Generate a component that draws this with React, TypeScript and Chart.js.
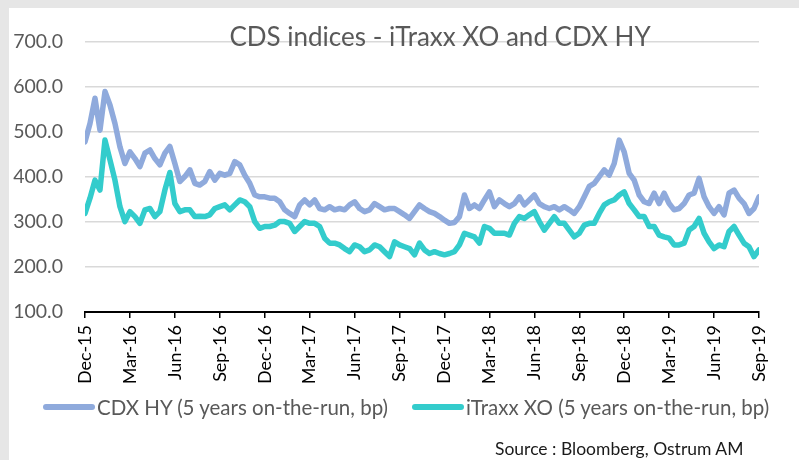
import React, { useEffect, useRef } from "react";
import { Chart, registerables } from "chart.js";

Chart.register(...registerables);

const quarterLabels = [
  "Dec-15", "Mar-16", "Jun-16", "Sep-16", "Dec-16", "Mar-17", "Jun-17", "Sep-17",
  "Dec-17", "Mar-18", "Jun-18", "Sep-18", "Dec-18", "Mar-19", "Jun-19", "Sep-19",
];

// samples every ~1/3 month from Dec-15 to Sep-19
const cdxHY = [
  478, 519, 575, 504, 590, 560, 519, 467, 430, 456, 441, 423, 453, 460, 441, 427,
  453, 468, 430, 390, 401, 416, 386, 382, 390, 412, 393, 408, 404, 408, 434, 427,
  404, 386, 360, 356, 356, 353, 353, 345, 327, 319, 312, 338, 349, 338, 349, 330,
  327, 334, 327, 330, 327, 338, 345, 330, 323, 327, 341, 334, 327, 330, 330, 323,
  316, 308, 323, 338, 330, 323, 319, 312, 304, 297, 299, 312, 360, 330, 338, 330,
  349, 367, 334, 349, 341, 334, 341, 356, 338, 349, 360, 341, 334, 330, 334, 327,
  334, 327, 319, 334, 356, 379, 386, 401, 416, 404, 430, 482, 456, 408, 393, 360,
  345, 341, 364, 341, 364, 341, 327, 330, 341, 360, 364, 397, 356, 334, 319, 334,
  316, 364, 371, 353, 341, 319, 330, 356,
];

const itraxxXO = [
  319, 353, 393, 371, 482, 438, 393, 334, 301, 323, 312, 297, 327, 330, 312, 323,
  371, 410, 341, 323, 327, 327, 312, 313, 312, 316, 330, 334, 338, 327, 338, 349,
  345, 334, 301, 286, 290, 290, 293, 301, 301, 297, 279, 290, 301, 297, 297, 290,
  264, 253, 253, 249, 241, 234, 249, 245, 234, 238, 249, 245, 234, 223, 256, 249,
  245, 241, 227, 253, 238, 230, 234, 230, 227, 230, 234, 249, 275, 271, 267, 253,
  290, 286, 275, 275, 275, 271, 297, 312, 308, 316, 323, 301, 282, 297, 312, 297,
  297, 282, 267, 275, 293, 297, 297, 319, 338, 345, 349, 360, 367, 341, 327, 312,
  312, 290, 290, 271, 267, 264, 249, 249, 253, 282, 290, 308, 275, 256, 241, 249,
  245, 279, 290, 271, 253, 245, 223, 238,
];

const seriesNames = ["CDX HY (5 years on-the-run, bp)", "iTraxx XO (5 years on-the-run, bp)"];
const colors = ["#8FAADC", "#33CCCC"];

const FONT = "Lato, 'Open Sans', sans-serif";

export default function App() {
  const ref = useRef<HTMLCanvasElement | null>(null);

  useEffect(() => {
    if (!ref.current) return;
    const toXY = (arr: number[]) => arr.map((v, i) => ({ x: i / 3, y: v }));
    const chart = new Chart(ref.current, {
      type: "line",
      data: {
        datasets: [
          {
            label: seriesNames[0],
            data: toXY(cdxHY),
            borderColor: colors[0],
            backgroundColor: colors[0],
            borderWidth: 5.5,
            pointRadius: 0,
            tension: 0,
            borderJoinStyle: "round",
            borderCapStyle: "round",
          },
          {
            label: seriesNames[1],
            data: toXY(itraxxXO),
            borderColor: colors[1],
            backgroundColor: colors[1],
            borderWidth: 5.5,
            pointRadius: 0,
            tension: 0,
            borderJoinStyle: "round",
            borderCapStyle: "round",
          },
        ],
      },
      options: {
        responsive: false,
        animation: false,
        layout: { padding: { top: 42, right: 40, left: 0, bottom: 0 } },
        plugins: { legend: { display: false }, title: { display: false }, tooltip: { enabled: false } },
        scales: {
          x: {
            type: "linear",
            min: 0,
            max: 45,
            afterFit: (s: any) => { s.height = 148; },
            grid: { drawOnChartArea: false, drawTicks: true, tickLength: 6, color: "#000", lineWidth: 1.5 },
            border: { color: "#000", width: 2 },
            ticks: {
              stepSize: 3,
              autoSkip: false,
              minRotation: 90,
              maxRotation: 90,
              padding: 7,
              color: "#000",
              font: { family: FONT, size: 18 },
              callback: (v: any) => quarterLabels[Math.round(Number(v) / 3)] ?? "",
            },
          },
          y: {
            min: 100,
            max: 700,
            afterFit: (s: any) => { s.width = 85; },
            grid: { color: "#D9D9D9", lineWidth: 1.5, drawTicks: false },
            border: { display: false },
            ticks: {
              stepSize: 100,
              padding: 22,
              color: "#595959",
              font: { family: FONT, size: 19.5 },
              callback: (v: any) => Number(v).toFixed(1),
            },
          },
        },
      },
    });
    return () => chart.destroy();
  }, []);

  const legendText: React.CSSProperties = {
    position: "absolute",
    fontFamily: FONT,
    fontSize: 20.5,
    color: "#595959",
    whiteSpace: "nowrap",
    lineHeight: "22px",
    top: 396,
  };

  return (
    <div style={{ position: "fixed", left: 0, top: 0, width: 799, height: 460, background: "#E6E6E6", overflow: "hidden" }}>
      <div style={{ position: "absolute", left: 9, top: 8, width: 790, height: 452, background: "#FFFFFF" }} />
      <canvas ref={ref} width={799} height={460} style={{ position: "absolute", left: 0, top: 0, width: 799, height: 460 }} />
      <div style={{ position: "absolute", left: 0, width: 880, top: 21, textAlign: "center", fontFamily: FONT, fontSize: 26, color: "#595959", whiteSpace: "nowrap", lineHeight: "30px" }}>
        CDS indices - iTraxx XO and CDX HY
      </div>
      <div style={{ position: "absolute", left: 43, top: 404, width: 52, height: 6, borderRadius: 3, background: colors[0] }} />
      <div style={{ ...legendText, left: 97 }}>{seriesNames[0]}</div>
      <div style={{ position: "absolute", left: 412, top: 404, width: 52, height: 6, borderRadius: 3, background: colors[1] }} />
      <div style={{ ...legendText, left: 466 }}>{seriesNames[1]}</div>
      <div style={{ position: "absolute", left: 495, top: 439, fontFamily: FONT, fontSize: 17.5, color: "#1A1A1A", whiteSpace: "nowrap", lineHeight: "20px" }}>
        Source : Bloomberg, Ostrum AM
      </div>
    </div>
  );
}
